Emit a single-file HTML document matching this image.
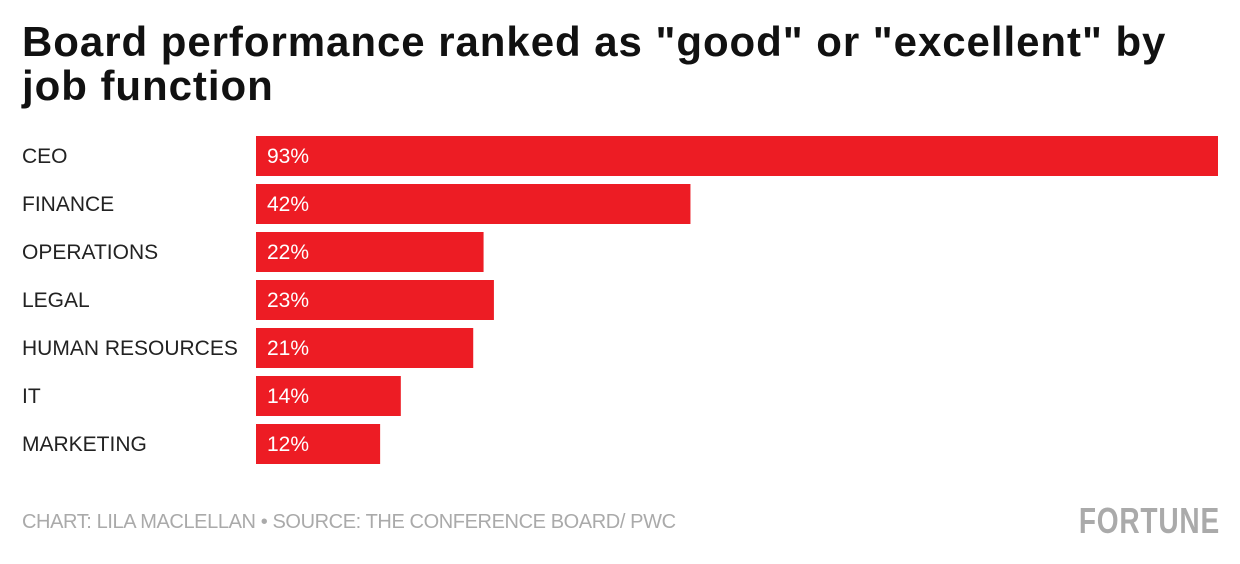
<!DOCTYPE html>
<html><head><meta charset="utf-8">
<style>
body{margin:0;background:#fff;width:1240px;height:564px;overflow:hidden;font-family:"Liberation Sans",sans-serif;position:relative}
#title{position:absolute;left:22px;top:20px;width:1160px;font-weight:bold;font-size:42px;line-height:44px;color:#111;letter-spacing:0.95px}
#footer{position:absolute;left:22px;top:511px;font-size:20px;color:#aaa;letter-spacing:-0.4px}
#logo{position:absolute;right:20px;top:500px;font-size:36px;font-weight:bold;color:#aaa;transform:scaleX(0.78);transform-origin:right top;letter-spacing:1px}
svg{position:absolute;left:0;top:0}
</style></head><body>
<div id="title">Board performance ranked as "good" or "excellent" by job function</div>
<svg id="chart" width="1240" height="564"></svg>
<div id="footer">CHART: LILA MACLELLAN • SOURCE: THE CONFERENCE BOARD/ PWC</div>
<div id="logo">FORTUNE</div>
<script>
const categories=["CEO","FINANCE","OPERATIONS","LEGAL","HUMAN RESOURCES","IT","MARKETING"];
const values=[93,42,22,23,21,14,12];
const svg=document.getElementById('chart');
const NS='http://www.w3.org/2000/svg';
const x0=256,pxPer=962/93,y0=136,step=48,bh=40;
function xs(v){return v*pxPer;}
function ys(i){return y0+i*step;}
categories.forEach((c,i)=>{
  const t=document.createElementNS(NS,'text');
  t.setAttribute('x',22);t.setAttribute('y',ys(i)+27);
  t.setAttribute('font-size','21');t.setAttribute('fill','#222');
  t.setAttribute('font-family','Liberation Sans, sans-serif');
  t.textContent=c;
  
  
  svg.appendChild(t);
  const r=document.createElementNS(NS,'rect');
  r.setAttribute('x',x0);r.setAttribute('y',ys(i));
  r.setAttribute('width',xs(values[i]));r.setAttribute('height',bh);
  r.setAttribute('fill','#ed1c24');
  
  
  svg.appendChild(r);
  const v=document.createElementNS(NS,'text');
  v.setAttribute('x',x0+11);v.setAttribute('y',ys(i)+27);
  v.setAttribute('font-size','21');v.setAttribute('fill','#fff');
  v.setAttribute('font-family','Liberation Sans, sans-serif');
  v.textContent=values[i]+'%';
  
  
  svg.appendChild(v);
});
</script>
</body></html>
